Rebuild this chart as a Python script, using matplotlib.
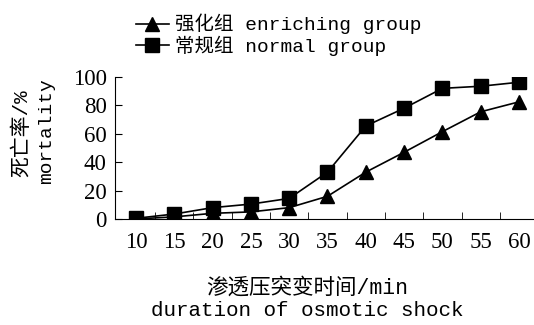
import matplotlib
matplotlib.use("Agg")
import matplotlib.pyplot as plt
from matplotlib.ticker import FixedLocator

# duration of osmotic shock (min)
durations = [10, 15, 20, 25, 30, 35, 40, 45, 50, 55, 60]
# mortality (%)
enriching = [0, 1.5, 4, 5, 8, 16, 33, 47, 61.5, 75.5, 82.5]
normal = [0.5, 3.5, 8, 10.5, 14.5, 33, 65.5, 78, 92, 93.5, 96.3]
y_ticks = [0, 20, 40, 60, 80, 100]

mono_cjk = ["Liberation Mono", "Noto Sans CJK SC"]

fig = plt.figure(figsize=(5.34, 3.25), dpi=100)
ax = fig.add_axes([115 / 534, 106 / 325, 1 - 115 / 534, 142 / 325])

ax.plot(durations, enriching, "-^", color="black", lw=1.2, ms=10,
        label="强化组 enriching group")
ax.plot(durations, normal, "-s", color="black", lw=1.2, ms=9.5,
        label="常规组 normal group")

ax.set_xlim(7.26, 61.96)
ax.set_ylim(0, 100)
for s in ("top", "right"):
    ax.spines[s].set_visible(False)

ax.set_xticks(durations)
ax.xaxis.set_minor_locator(FixedLocator([d + 2.5 for d in durations[:-1]]))
ax.tick_params(axis="x", which="major", length=0, pad=9)
ax.tick_params(axis="x", which="minor", direction="in", length=5)
ax.set_yticks(y_ticks)
ax.tick_params(axis="y", direction="in", length=5, pad=6)
for lbl in ax.get_xticklabels() + ax.get_yticklabels():
    lbl.set_fontfamily("Liberation Serif")
    lbl.set_fontsize(16.5)

leg = ax.legend(loc="upper left", bbox_to_anchor=(128 / 534, 1 - 6 / 325),
                bbox_transform=fig.transFigure, frameon=False,
                handlelength=1.7, handletextpad=0.3, labelspacing=0.05,
                borderaxespad=0, prop={"family": mono_cjk, "size": 14})

fig.text(22 / 534, 1 - 133 / 325, "死亡率/%", rotation=90, ha="center",
         va="center", family=mono_cjk, fontsize=15)
fig.text(47 / 534, 1 - 131 / 325, "mortality", rotation=90, ha="center",
         va="center", family=mono_cjk, fontsize=14)
fig.text(307 / 534, 1 - 288 / 325, "渗透压突变时间/min", ha="center",
         va="center", family=mono_cjk, fontsize=15.5)
fig.text(307 / 534, 1 - 310 / 325, "duration of osmotic shock", ha="center",
         va="center", family=mono_cjk, fontsize=15)

fig.savefig("out.png", dpi=100)
